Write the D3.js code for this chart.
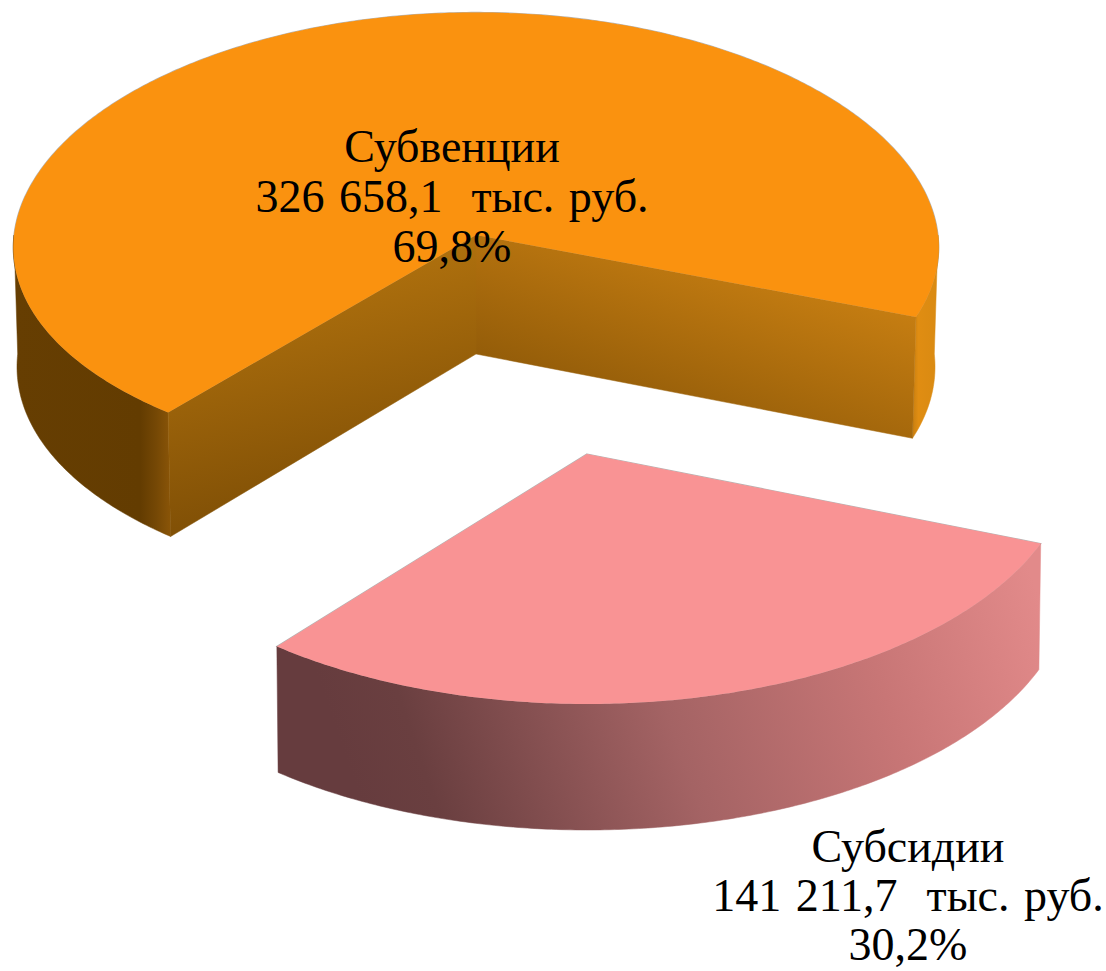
<!DOCTYPE html>
<html>
<head>
<meta charset="utf-8">
<script src="https://cdnjs.cloudflare.com/ajax/libs/d3/7.8.5/d3.min.js"></script>
<style>
  html, body { margin: 0; padding: 0; background: #fff; }
  text { font-family: "Liberation Serif", serif; font-size: 46px; fill: #000; white-space: pre; text-anchor: middle; word-spacing: 3px; }
</style>
</head>
<body>
<div id="chart"></div>
<script>
// Chart data
var categories = ["Субсидии", "Субвенции"];
var amounts = [141211.7, 326658.1];
var amountLabels = ["141 211,7  тыс. руб.", "326 658,1  тыс. руб."];
var shareLabels = ["30,2%", "69,8%"];

// Set up SVG definitions
var svgWidth = 1106;
var svgHeight = 971;
var startAngle = 111 * Math.PI / 180;

// Each slice has its own centre and radii, the picture has some perspective
// kx, ky: how much the rim grows towards the viewer
// depth: wall height at the centre, depthK: extra height towards the viewer
// shrink: the bottom rim is a little narrower than the top one
var sliceGeometry = [
  { cx: 587, cy: 454, rx: 486, ry: 250, kx: 0, ky: 0, depth: 126, depthK: 0, shrink: 0.996,
    top: "#f99394", labelX: 908, labelY: 862, lineHeight: 49 },
  { cx: 476, cy: 235, rx: 462, ry: 227, kx: 0.055, ky: 0.02, depth: 119, depthK: 6.5, shrink: 0.992,
    top: "#fa920f", labelX: 452, labelY: 162, lineHeight: 50 }
];

var svg = d3
  .select("#chart")
  .append("svg")
  .attr("width", svgWidth)
  .attr("height", svgHeight)
  .style("display", "block");

var defs = svg.append("defs");

// Add a linear gradient, coordinates are in pixels of the svg
function addGradient(id, x1, y1, x2, y2, stops) {
  var grad = defs.append("linearGradient")
    .attr("id", id)
    .attr("gradientUnits", "userSpaceOnUse")
    .attr("x1", x1).attr("y1", y1)
    .attr("x2", x2).attr("y2", y2);
  stops.forEach(function(s) {
    grad.append("stop").attr("offset", s[0]).attr("stop-color", s[1]);
  });
}

addGradient("orangeLeftWall", 14, 0, 172, 0, [[0, "#663e02"], [0.8, "#633c01"], [0.9, "#754805"], [1, "#8c5608"]]);
addGradient("orangeRightWall", 908, 0, 938, 0, [[0, "#b87510"], [0.35, "#e08d12"], [1, "#d98a12"]]);
// The two cut faces meet at the centre without a visible corner
addGradient("orangeLeftFace", 511, 454, 447, 168, [[0, "#825106"], [1, "#be7b10"]]);
addGradient("orangeRightFace", 437, 410, 520, 170, [[0, "#825106"], [1, "#c87f12"]]);
addGradient("pinkWall", 370, 830, 1040, 600, [[0, "#663c3e"], [0.1, "#6a3f40"], [0.45, "#a46364"], [0.75, "#c87676"], [1, "#e28a8a"]]);

// Point on the rim of a slice for an angle measured clockwise from the top
function rimPoint(g, angle) {
  var xScale = d3.scaleLinear().domain([-1, 1]).range([g.cx - g.rx, g.cx + g.rx]);
  var yScale = d3.scaleLinear().domain([-1, 1]).range([g.cy - g.ry, g.cy + g.ry]);
  var u = Math.sin(angle);
  var v = -Math.cos(angle);
  return [xScale(u / (1 - g.kx * v)), yScale(v / (1 - g.ky * v))];
}

// Same point moved down onto the bottom rim
function bottomPoint(g, angle) {
  var p = rimPoint(g, angle);
  var v = -Math.cos(angle);
  return [g.cx + (p[0] - g.cx) * g.shrink, p[1] + g.depth + g.depthK * v];
}

function angleSteps(a0, a1) {
  var n = Math.max(2, Math.ceil(Math.abs(a1 - a0) / 0.01));
  return d3.range(n + 1).map(function(i) {
    return a0 + (a1 - a0) * i / n;
  });
}

var line = d3.line();

// Outer wall between two angles
function wallShape(g, a0, a1) {
  var steps = angleSteps(a0, a1);
  var upper = steps.map(function(a) { return rimPoint(g, a); });
  var lower = steps.map(function(a) { return bottomPoint(g, a); });
  return line(upper.concat(lower.reverse())) + "Z";
}

// Flat cut face from the centre to the rim
function faceShape(g, angle) {
  return line([
    [g.cx, g.cy],
    rimPoint(g, angle),
    bottomPoint(g, angle),
    [g.cx, g.cy + g.depth]
  ]) + "Z";
}

function topShape(g, a0, a1) {
  var rim = angleSteps(a0, a1).map(function(a) { return rimPoint(g, a); });
  return line([[g.cx, g.cy]].concat(rim)) + "Z";
}

var arcs = d3.pie()
  .sort(null)
  .startAngle(startAngle)
  .endAngle(startAngle + 2 * Math.PI)(amounts);

var chartGroup = svg.append("g");
var edge = "#b5b5b5";

function addShape(d, fill) {
  return chartGroup.append("path")
    .attr("d", d)
    .attr("fill", fill)
    .attr("stroke", fill)
    .attr("stroke-width", 0.5);
}

function addOutline(d) {
  chartGroup.append("path")
    .attr("d", d)
    .attr("fill", "none")
    .attr("stroke", edge)
    .attr("stroke-width", 1.2);
}

// Orange slice, it wraps round the back
var big = arcs[1];
var bigG = sliceGeometry[1];

addOutline(topShape(bigG, big.startAngle, big.endAngle));
addShape(wallShape(bigG, big.startAngle, 1.5 * Math.PI), "url(#orangeLeftWall)");
addShape(wallShape(bigG, 2.5 * Math.PI, big.endAngle), "url(#orangeRightWall)");
addShape(faceShape(bigG, big.endAngle), "url(#orangeRightFace)");
addShape(faceShape(bigG, big.startAngle), "url(#orangeLeftFace)");
chartGroup.append("path")
  .attr("d", topShape(bigG, big.startAngle, big.endAngle))
  .attr("fill", bigG.top);

// Pink slice
var small = arcs[0];
var smallG = sliceGeometry[0];

addOutline(topShape(smallG, small.startAngle, small.endAngle));
addShape(wallShape(smallG, small.startAngle, small.endAngle), "url(#pinkWall)");
chartGroup.append("path")
  .attr("d", topShape(smallG, small.startAngle, small.endAngle))
  .attr("fill", smallG.top);

// Labels
categories.forEach(function(name, i) {
  var g = sliceGeometry[i];
  [name, amountLabels[i], shareLabels[i]].forEach(function(txt, j) {
    svg.append("text")
      .attr("x", g.labelX)
      .attr("y", g.labelY + j * g.lineHeight)
      .text(txt);
  });
});
</script>
</body>
</html>
